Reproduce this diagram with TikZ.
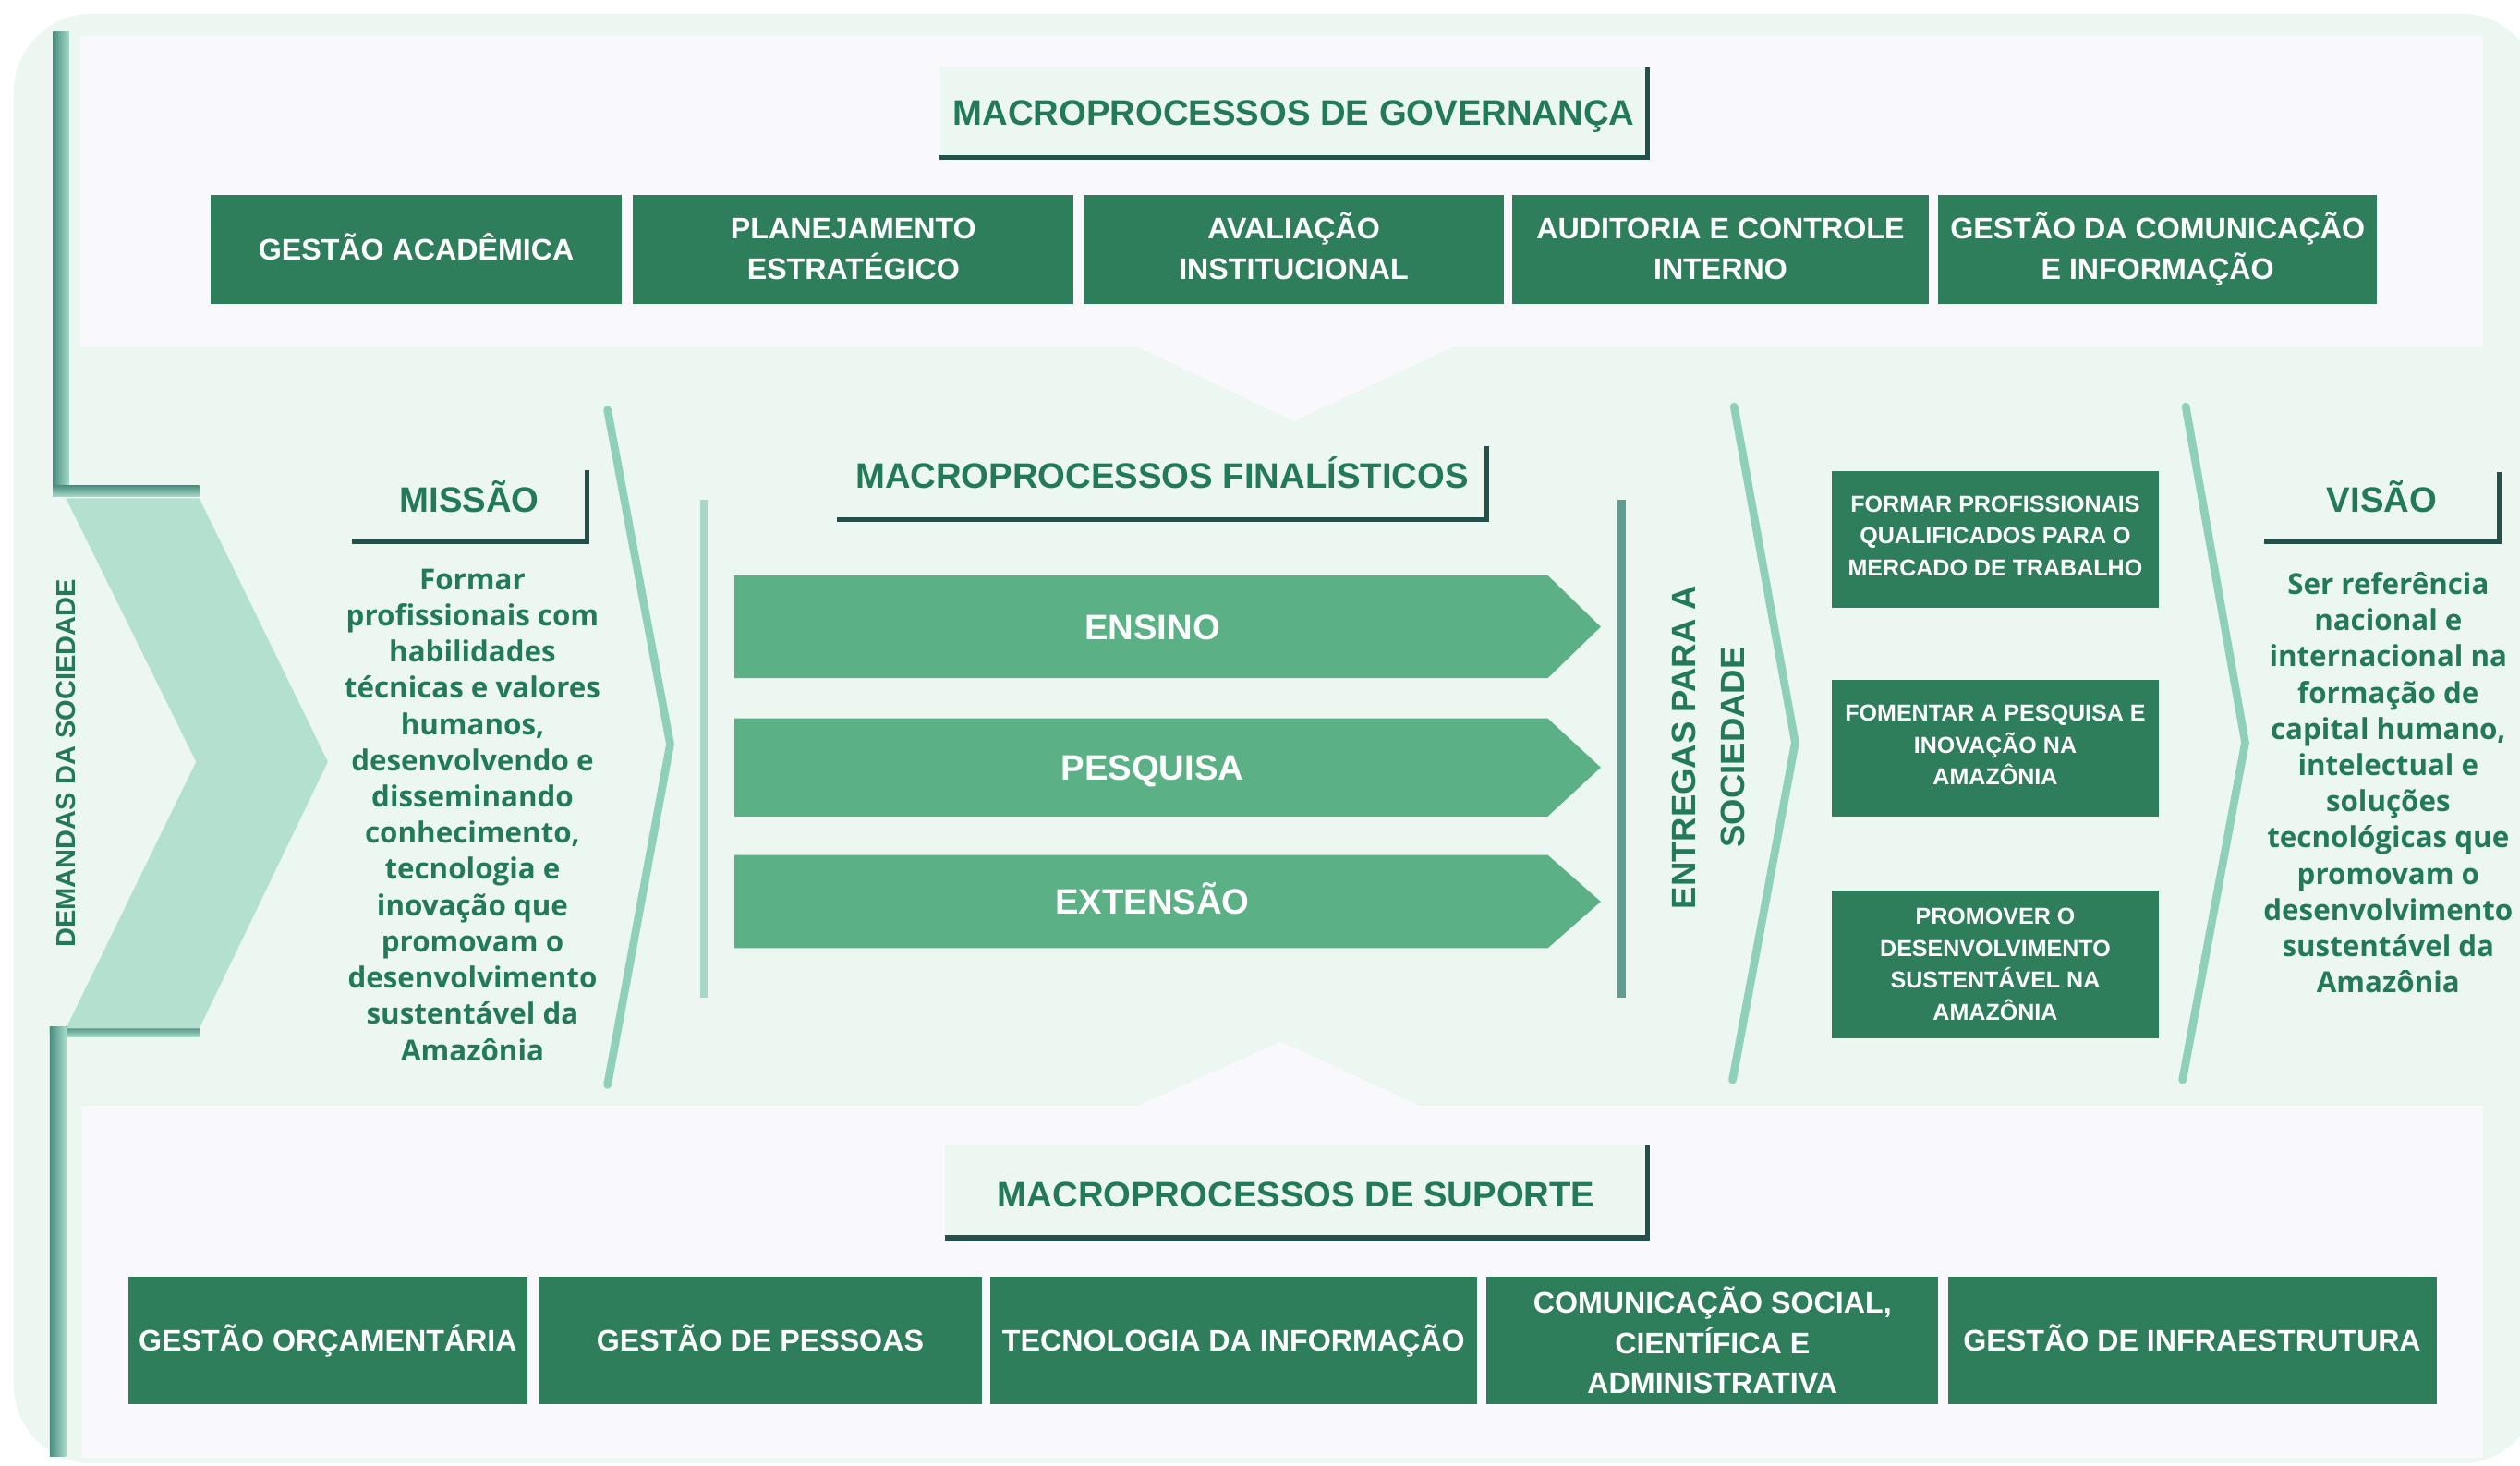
\documentclass[tikz,border=0pt]{standalone}
\usepackage{fontspec}
\setmainfont{Liberation Sans}
\newfontfamily\osans{Open Sans}
\definecolor{mint}{HTML}{EDF7F1}
\definecolor{panel}{HTML}{F8F8FD}
\definecolor{boxgreen}{HTML}{2E7D5B}
\definecolor{arrowgreen}{HTML}{5BB085}
\definecolor{txtgreen}{HTML}{237A58}
\definecolor{darkline}{HTML}{24504B}
\definecolor{chev}{HTML}{B4E0D0}
\definecolor{curve}{HTML}{8FD0BA}
\definecolor{bracketdark}{HTML}{4A8E80}
\definecolor{bracketlight}{HTML}{A6DAC9}
\definecolor{vlight}{HTML}{A7D7C8}
\definecolor{vdark}{HTML}{5E9E92}
\begin{document}
\begin{tikzpicture}[x=1pt,y=-1pt,
  procbox/.style={fill=boxgreen, text=white, align=center, inner sep=0pt,
    font=\bfseries\fontsize{18.5}{25}\selectfont},
  oneline/.style={text height=13.3pt, text depth=0pt},
  delivbox/.style={fill=boxgreen, text=white, align=center, inner sep=0pt,
    minimum width=203pt, font=\bfseries\fontsize{14.4}{20}\selectfont},
  titlebox/.style={fill=mint, text=txtgreen, inner sep=0pt,
    text height=15.8pt, text depth=0pt,
    font=\bfseries\fontsize{22}{26}\selectfont},
  darkedge/.style={draw=darkline, line width=3pt},
  arrowtext/.style={text=white, inner sep=0pt, text height=15.8pt, text depth=0pt,
    font=\bfseries\fontsize{22}{26}\selectfont},
  bodytext/.style={text=txtgreen, align=center, inner sep=0pt,
    font=\osans\bfseries\fontsize{18}{22.55}\selectfont},
  sidetext/.style={text=txtgreen, align=center, inner sep=0pt, rotate=90},
  chevline/.style={draw=curve, line width=5pt, line cap=round, line join=miter},
]
\useasboundingbox (0,0) rectangle (1568,912);
\fill[white] (0,0) rectangle (1568,912);
\fill[mint, rounded corners=49pt] (8.5,8.5) rectangle (1580,910.5);

% white panels
\fill[panel] (50,22) -- (1545,22) -- (1545,216) -- (904,216) -- (805,262) -- (708,216) -- (50,216) -- cycle;
\fill[panel] (51,688) -- (708,688) -- (797,648) -- (883,688) -- (1545,688) -- (1545,907) -- (51,907) -- cycle;

% left bracket
\shade[left color=bracketdark, right color=bracketlight] (33,20) rectangle (43,309);
\shade[top color=bracketdark, bottom color=bracketlight] (33,302) rectangle (124,309);
\shade[top color=bracketdark, bottom color=bracketlight] (31,639) rectangle (124,645);
\shade[left color=bracketdark, right color=bracketlight] (31,639) rectangle (41,906);

% demand chevron
\fill[chev] (41,310) -- (124,310) -- (204,474) -- (124,640) -- (41,640) -- (122,474) -- cycle;
\node[sidetext, font=\bfseries\fontsize{16.7}{20}\selectfont] (dem) at (41,475) {DEMANDAS DA SOCIEDADE};

% governance
\node[titlebox, minimum width=440pt, minimum height=56pt] (govt) at (805,70) {MACROPROCESSOS DE GOVERNANÇA};
\draw[darkedge] (govt.north east) -- (govt.south east) -- (govt.south west);
\node[procbox, oneline, minimum width=256pt, minimum height=68pt] (g1) at (259,155) {GESTÃO ACADÊMICA};
\node[procbox, minimum width=274pt, minimum height=68pt] (g2) at (531,155) {PLANEJAMENTO\\ESTRATÉGICO};
\node[procbox, minimum width=262pt, minimum height=68pt] (g3) at (805,155) {};
\node[procbox, fill=none] (g3t) at ([yshift=2pt]g3.center) {AVALIAÇÃO\\INSTITUCIONAL};
\node[procbox, minimum width=259pt, minimum height=68pt] (g4) at (1070.5,155) {AUDITORIA E CONTROLE\\INTERNO};
\node[procbox, minimum width=273pt, minimum height=68pt] (g5) at (1342.5,155) {GESTÃO DA COMUNICAÇÃO\\E INFORMAÇÃO};

% mission
\node[titlebox, minimum width=146pt, minimum height=44pt, text depth=8pt] (mist) at (292,315) {MISSÃO};
\draw[darkedge] (mist.north east) -- (mist.south east) -- (mist.south west);
\node[bodytext] (mtext) at (294,507) {Formar\\profissionais com\\habilidades\\técnicas e valores\\humanos,\\desenvolvendo e\\disseminando\\conhecimento,\\tecnologia e\\inovação que\\promovam o\\desenvolvimento\\sustentável da\\Amazônia};

% chevron lines
\coordinate (c1a) at (378,255); \coordinate (c1b) at (417,463); \coordinate (c1c) at (378,675);
\draw[chevline] (c1a) -- (c1b) -- (c1c);
\coordinate (c2a) at (1079,253); \coordinate (c2b) at (1117,462); \coordinate (c2c) at (1078,672);
\draw[chevline] (c2a) -- (c2b) -- (c2c);
\coordinate (c3a) at (1360,253); \coordinate (c3b) at (1397,462); \coordinate (c3c) at (1358,672);
\draw[chevline] (c3a) -- (c3b) -- (c3c);

% finalistic
\coordinate (vl1) at (438,311); \coordinate (vl2) at (438,621);
\draw[vlight, line width=5pt] (vl1) -- (vl2);
\coordinate (vr1) at (1009,311); \coordinate (vr2) at (1009,621);
\draw[vdark, line width=5pt] (vr1) -- (vr2);
\node[titlebox, minimum width=404pt, minimum height=45pt, text depth=9pt] (fint) at (723,300.5) {MACROPROCESSOS FINALÍSTICOS};
\draw[darkedge] (fint.north east) -- (fint.south east) -- (fint.south west);
\fill[arrowgreen] (457,358) -- (963,358) -- (996,390) -- (963,422) -- (457,422) -- cycle;
\node[arrowtext] (ensino) at (717,390) {ENSINO};
\fill[arrowgreen] (457,447) -- (963,447) -- (996,477.5) -- (963,508) -- (457,508) -- cycle;
\node[arrowtext] (pesq) at (717,477.5) {PESQUISA};
\fill[arrowgreen] (457,532) -- (963,532) -- (996,561) -- (963,590) -- (457,590) -- cycle;
\node[arrowtext] (ext) at (717,561) {EXTENSÃO};

% deliveries
\node[sidetext, font=\bfseries\fontsize{21}{30}\selectfont] (entr) at (1063,465) {ENTREGAS PARA A\\SOCIEDADE};
\node[delivbox, minimum height=85pt] (e1) at (1241.5,335.5) {};
\node[delivbox, fill=none, minimum width=0pt] (e1t) at ([yshift=2pt]e1.center) {FORMAR PROFISSIONAIS\\QUALIFICADOS PARA O\\MERCADO DE TRABALHO};
\node[delivbox, minimum height=85pt] (e2) at (1241.5,465.5) {};
\node[delivbox, fill=none, minimum width=0pt] (e2t) at ([yshift=2pt]e2.center) {FOMENTAR A PESQUISA E\\INOVAÇÃO NA\\AMAZÔNIA};
\node[delivbox, minimum height=92pt] (e3) at (1241.5,600) {PROMOVER O\\DESENVOLVIMENTO\\SUSTENTÁVEL NA\\AMAZÔNIA};

% vision
\node[titlebox, minimum width=146pt, minimum height=43pt, text depth=9pt] (vist) at (1482,315.5) {VISÃO};
\draw[darkedge] (vist.north east) -- (vist.south east) -- (vist.south west);
\node[bodytext] (vtext) at (1486,487) {Ser referência\\nacional e\\internacional na\\formação de\\capital humano,\\intelectual e\\soluções\\tecnológicas que\\promovam o\\desenvolvimento\\sustentável da\\Amazônia};

% support
\node[titlebox, minimum width=437pt, minimum height=57pt, text height=18.8pt] (supt) at (806.5,741.5) {MACROPROCESSOS DE SUPORTE};
\draw[darkedge] (supt.north east) -- (supt.south east) -- (supt.south west);
\node[procbox, oneline, minimum width=248pt, minimum height=79pt] (s1) at (204,834) {GESTÃO ORÇAMENTÁRIA};
\node[procbox, oneline, minimum width=276pt, minimum height=79pt] (s2) at (473,834) {GESTÃO DE PESSOAS};
\node[procbox, oneline, minimum width=303pt, minimum height=79pt] (s3) at (767.5,834) {TECNOLOGIA DA INFORMAÇÃO};
\node[procbox, minimum width=281pt, minimum height=79pt] (s4) at (1065.5,834) {COMUNICAÇÃO SOCIAL,\\CIENTÍFICA E\\ADMINISTRATIVA};
\node[procbox, oneline, minimum width=304pt, minimum height=79pt] (s5) at (1364,834) {GESTÃO DE INFRAESTRUTURA};
\end{tikzpicture}
\end{document}
